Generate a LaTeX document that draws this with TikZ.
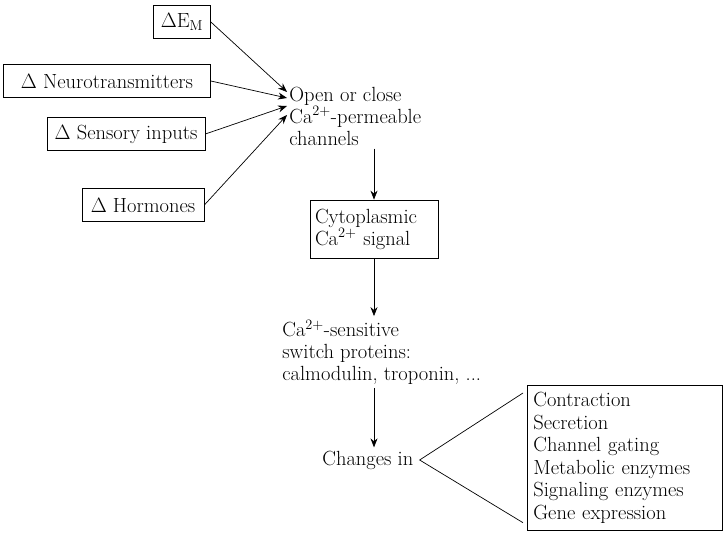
\documentclass[tikz,border=0pt]{standalone}
\usetikzlibrary{arrows.meta}

\begin{document}
\begin{tikzpicture}[x=1pt,y=-1pt,line width=0.7pt,
  every node/.style={font=\fontsize{20.5}{22}\selectfont},
  box/.style={draw,align=left,inner xsep=3pt,minimum height=33pt},
  txt/.style={align=left,inner sep=3pt},
  arr/.style={-{Stealth[length=9pt,width=7pt]}}]
\useasboundingbox (0,0) rectangle (728,535);

% inputs
\node[box,minimum width=57pt] (em) at (182,22) {$\Delta$E$_{\mathrm{M}}$};
\node[box,minimum width=207pt] (nt) at (107,81) {$\Delta$ Neurotransmitters};
\node[box,minimum width=158pt] (si) at (126,134) {$\Delta$ Sensory inputs};
\node[box,minimum width=122pt] (ho) at (143,205) {$\Delta$ Hormones};

\node[txt,anchor=west] (ch) at (286,116) {Open or close\\Ca\textsuperscript{2+}-permeable\\channels};
\coordinate (t1) at (287,92);
\coordinate (t2) at (287,98);
\coordinate (t3) at (287,106);
\coordinate (t4) at (287,115);

\draw[arr] (em.east) -- (t1);
\draw[arr] (nt.east) -- (t2);
\draw[arr] (si.east) -- (t3);
\draw[arr] (ho.east) -- (t4);

% signal chain
\node[box,text width=118pt,inner xsep=5pt,minimum height=58pt] (cy) at (374,229)
  {Cytoplasmic\\Ca\textsuperscript{2+} signal};
\node[txt,anchor=west] (sw) at (279,352) {Ca\textsuperscript{2+}-sensitive\\switch proteins:\\calmodulin, troponin, ...};
\node[txt,anchor=west] (chg) at (319,460) {Changes in};

\draw[arr] (cy.north |- ch.south) -- (cy.north);
\draw[arr] (cy.south) -- (cy.south |- sw.north);
\draw[arr] (cy.south |- sw.south) -- (cy.south |- chg.north);

% effects
\node[draw,anchor=north west,align=left,text width=183pt,inner xsep=6pt,
  minimum height=145pt,font=\fontsize{20.5}{22.6}\selectfont] (ef) at (527,385)
  {Contraction\\Secretion\\Channel gating\\Metabolic enzymes\\Signaling enzymes\\Gene expression};

\draw ([xshift=-4pt,yshift=-8pt]ef.north west) -- ([xshift=3pt]chg.east)
  -- ([xshift=-4pt,yshift=8pt]ef.south west);
\end{tikzpicture}
\end{document}
